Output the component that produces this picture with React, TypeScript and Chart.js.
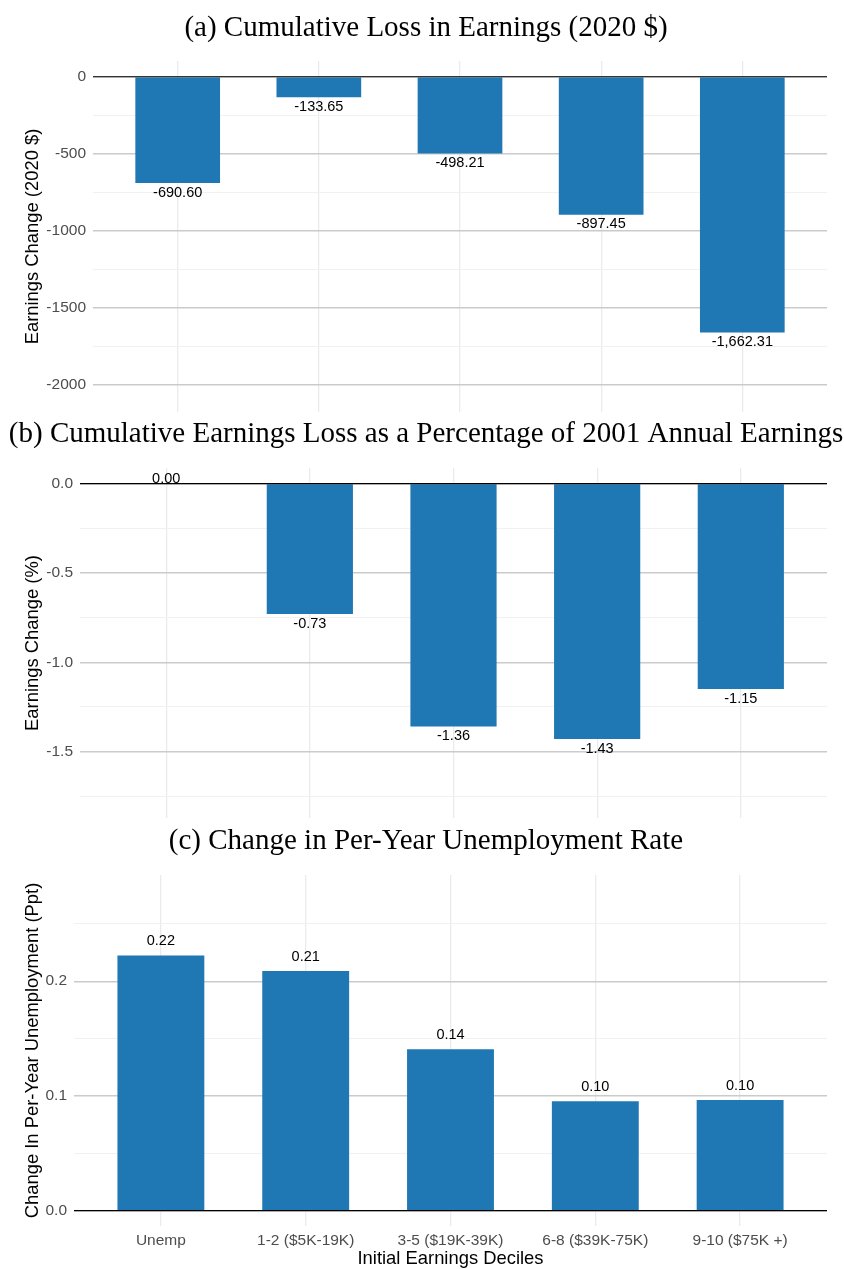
import React, { useEffect, useRef } from 'react';
import { Chart, registerables } from 'chart.js';

Chart.register(...registerables);

// ---------- data ----------
const categories = ['Unemp', '1-2 ($5K-19K)', '3-5 ($19K-39K)', '6-8 ($39K-75K)', '9-10 ($75K +)'];
const earningsLoss = [-690.6, -133.65, -498.21, -897.45, -1662.31];
const earningsLossPct = [0.0, -0.73, -1.36, -1.43, -1.15];
const unempChange = [0.2225, 0.209, 0.1407, 0.0954, 0.0965];

const lossMajorTicks = [-2000, -1500, -1000, -500, 0];
const lossMinorTicks = [-1750, -1250, -750, -250];
const pctMajorTicks = [-1.5, -1.0, -0.5, 0];
const pctMinorTicks = [-1.75, -1.25, -0.75, -0.25];
const unempMajorTicks = [0, 0.1, 0.2];
const unempMinorTicks = [0.05, 0.15, 0.25];

const panelTitles = [
  '(a) Cumulative Loss in Earnings (2020 $)',
  '(b) Cumulative Earnings Loss as a Percentage of 2001 Annual Earnings',
  '(c) Change in Per-Year Unemployment Rate',
];
const yTitles = ['Earnings Change (2020 $)', 'Earnings Change (%)', 'Change In Per-Year Unemployment (Ppt)'];
const xTitle = 'Initial Earnings Deciles';

// ---------- styling ----------
const BAR = '#1f77b4';
const SANS = '"Liberation Sans", Arial, sans-serif';
const SERIF = '"Liberation Serif", "Times New Roman", serif';
const PAD_LEFT = 8;
const RIGHT_GAP = 17;

type Panel = {
  title: string;
  values: number[];
  yTitle: string;
  yMin: number;
  yMax: number;
  majors: number[];
  minors: number[];
  tickFmt: (v: number) => string;
  labelFmt: (v: number) => string;
  plotLeft: number;
  titlePad: { top: number; bottom: number };
  padBottom: number;
  showX: boolean;
  posOffset: number;
  top: number;
  height: number;
};

const panels: Panel[] = [
  {
    title: panelTitles[0],
    values: earningsLoss,
    yTitle: yTitles[0],
    yMin: -2178,
    yMax: 102,
    majors: lossMajorTicks,
    minors: lossMinorTicks,
    tickFmt: (v) => String(v),
    labelFmt: (v) => v.toLocaleString('en-US', { minimumFractionDigits: 2, maximumFractionDigits: 2 }),
    plotLeft: 93,
    titlePad: { top: 10.6, bottom: 15.6 },
    padBottom: 2,
    showX: false,
    posOffset: 14,
    top: 0,
    height: 414,
  },
  {
    title: panelTitles[1],
    values: earningsLossPct,
    yTitle: yTitles[1],
    yMin: -1.872,
    yMax: 0.0876,
    majors: pctMajorTicks,
    minors: pctMinorTicks,
    tickFmt: (v) => v.toFixed(1),
    labelFmt: (v) => v.toFixed(2),
    plotLeft: 80,
    titlePad: { top: 3.0, bottom: 16.2 },
    padBottom: 6,
    showX: false,
    posOffset: 14,
    top: 414,
    height: 410,
  },
  {
    title: panelTitles[2],
    values: unempChange,
    yTitle: yTitles[2],
    yMin: -0.0134,
    yMax: 0.2926,
    majors: unempMajorTicks,
    minors: unempMinorTicks,
    tickFmt: (v) => v.toFixed(1),
    labelFmt: (v) => v.toFixed(2),
    plotLeft: 74,
    titlePad: { top: 0, bottom: 16.2 },
    padBottom: 0,
    showX: true,
    posOffset: 14,
    top: 824,
    height: 445,
  },
];

function isMajor(p: Panel, v: number) {
  return p.majors.some((m) => Math.abs(m - v) < 1e-9);
}

function makeChart(canvas: HTMLCanvasElement, p: Panel) {
  const labelPlugin = {
    id: 'barLabels',
    afterDatasetsDraw(chart: any) {
      const ctx = chart.ctx;
      const ys = chart.scales.y;
      const area = chart.chartArea;
      const y0 = ys.getPixelForValue(0);
      ctx.save();
      ctx.strokeStyle = '#000';
      ctx.lineWidth = 1.1;
      ctx.beginPath();
      ctx.moveTo(area.left, y0);
      ctx.lineTo(area.right, y0);
      ctx.stroke();
      ctx.font = '14.5px ' + SANS;
      ctx.fillStyle = '#000';
      ctx.textAlign = 'center';
      ctx.textBaseline = 'middle';
      const meta = chart.getDatasetMeta(0);
      meta.data.forEach((bar: any, i: number) => {
        const v = p.values[i];
        const { x, y } = bar.getProps(['x', 'y'], true);
        let ly: number;
        if (v < 0) ly = y + 9.5;
        else if (v === 0) ly = y0 - 5;
        else ly = y - p.posOffset;
        ctx.fillText(p.labelFmt(v), x, ly);
      });
      ctx.restore();
    },
  };

  const yTicks = [...p.majors, ...p.minors].sort((a, b) => a - b);

  return new Chart(canvas, {
    type: 'bar',
    data: {
      datasets: [
        {
          data: p.values.map((v, i) => ({ x: i, y: v })),
          backgroundColor: BAR,
          borderWidth: 0,
          barPercentage: 0.6,
          categoryPercentage: 1,
        },
      ],
    },
    plugins: [labelPlugin],
    options: {
      responsive: false,
      animation: false,
      layout: { padding: { left: PAD_LEFT, right: 0, top: 0, bottom: p.padBottom } },
      plugins: {
        legend: { display: false },
        tooltip: { enabled: false },
        title: {
          display: true,
          text: p.title,
          color: '#000',
          font: { family: SERIF, size: 29, weight: 'normal', lineHeight: 1.2 },
          padding: p.titlePad,
        },
      },
      scales: {
        x: {
          type: 'linear',
          min: -0.6,
          max: 4.6,
          offset: false,
          afterBuildTicks: (s: any) => {
            s.ticks = categories.map((_, i) => ({ value: i }));
          },
          afterFit: (s: any) => {
            s.height = p.showX ? 43 : 0;
            s.paddingLeft = 0;
            s.paddingRight = 0;
          },
          border: { display: false },
          grid: { color: '#ebebeb', lineWidth: 1.3, drawTicks: false, offset: false },
          ticks: {
            display: p.showX,
            autoSkip: false,
            maxRotation: 0,
            padding: 5,
            color: '#4d4d4d',
            font: { family: SANS, size: 15.5 },
            callback: (v: any) => categories[Math.round(Number(v))] ?? '',
          },
          title: {
            display: p.showX,
            text: xTitle,
            color: '#000',
            font: { family: SANS, size: 18.4, lineHeight: 1 },
            padding: { top: 0, bottom: 1 },
          },
        },
        y: {
          type: 'linear',
          position: 'left',
          min: p.yMin,
          max: p.yMax,
          afterBuildTicks: (s: any) => {
            s.ticks = yTicks.map((v) => ({ value: v }));
          },
          afterFit: (s: any) => {
            s.width = p.plotLeft - PAD_LEFT;
            s.paddingTop = 0;
            s.paddingBottom = 0;
          },
          border: { display: false },
          grid: {
            drawTicks: false,
            color: (c: any) => (isMajor(p, c.tick.value) ? '#cbcbcb' : '#f1f1f1'),
            lineWidth: (c: any) => (isMajor(p, c.tick.value) ? 1.4 : 1),
          },
          ticks: {
            padding: 7,
            color: '#4d4d4d',
            font: { family: SANS, size: 15.5 },
            callback: (v: any) => (isMajor(p, Number(v)) ? p.tickFmt(Number(v)) : ''),
          },
          title: {
            display: true,
            text: p.yTitle,
            color: '#000',
            font: { family: SANS, size: 18.4, lineHeight: 1 },
            padding: { top: 16, bottom: 0 },
          },
        },
        yRightGap: {
          type: 'linear',
          position: 'right',
          display: true,
          min: 0,
          max: 1,
          afterFit: (s: any) => {
            s.width = RIGHT_GAP;
            s.paddingTop = 0;
            s.paddingBottom = 0;
          },
          border: { display: false },
          grid: { display: false, drawTicks: false },
          ticks: { display: false },
        },
      },
    } as any,
  });
}

function PanelChart({ p }: { p: Panel }) {
  const ref = useRef<HTMLCanvasElement | null>(null);
  useEffect(() => {
    if (!ref.current) return;
    const chart = makeChart(ref.current, p);
    return () => chart.destroy();
  }, [p]);
  return (
    <canvas
      ref={ref}
      width={844}
      height={p.height}
      style={{ position: 'absolute', left: 0, top: p.top, width: 844, height: p.height }}
    />
  );
}

export default function App() {
  return (
    <div style={{ position: 'absolute', left: 0, top: 0, width: 844, height: 1269, background: '#fff', overflow: 'hidden' }}>
      {panels.map((p) => (
        <PanelChart key={p.title} p={p} />
      ))}
    </div>
  );
}
